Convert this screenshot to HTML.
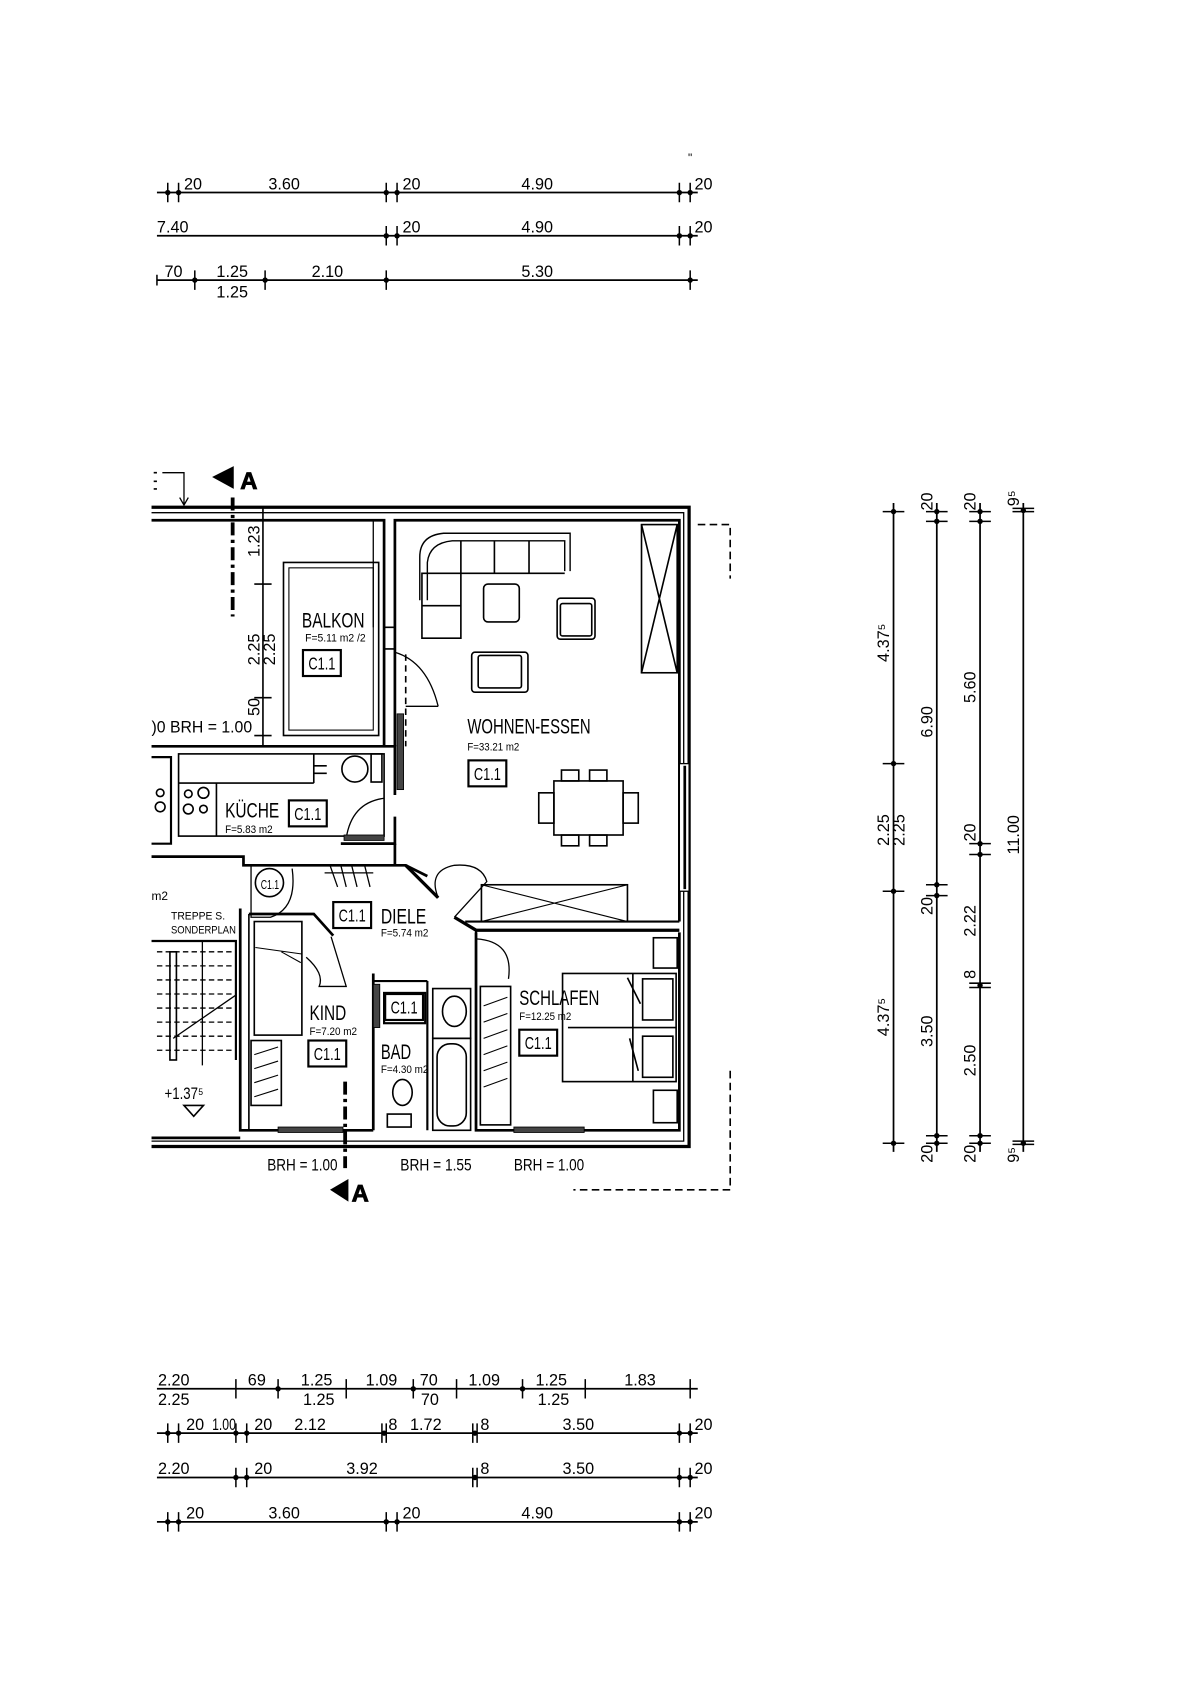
<!DOCTYPE html>
<html><head><meta charset="utf-8"><style>
html,body{margin:0;padding:0;background:#fff}
svg{display:block}
text{font-family:"Liberation Sans Narrow","Liberation Sans",sans-serif;fill:#000}
</style></head><body>
<svg width="1190" height="1683" viewBox="0 0 1100 1556" xmlns="http://www.w3.org/2000/svg">
<rect width="1100" height="1556" fill="#fff"/>
<g stroke="#000" stroke-width="1.6" fill="none">
<line x1="145" y1="178" x2="645" y2="178"/>
<line x1="145" y1="218" x2="645" y2="218"/>
<line x1="145" y1="259" x2="645" y2="259"/>
<g stroke-width="1.4">
<path d="M155 169v18M165 169v18M357 169v18M367 169v18M628 169v18M638 169v18"/>
<path d="M357 209v18M367 209v18M628 209v18M638 209v18"/>
<path d="M145 254v10M180 250v18M245 250v18M357 250v18M638 250v18"/>
<path d="M218 1275v18M257 1275v18M320 1275v18M382 1275v18M422 1275v18M483 1275v18M541 1275v18M638 1275v18"/>
<path d="M155 1316v18M165 1316v18M218 1316v18M228 1316v18M353 1316v18M357 1316v18M437 1316v18M441 1316v18M628 1316v18M638 1316v18"/>
<path d="M218 1357v18M228 1357v18M437 1357v18M441 1357v18M628 1357v18M638 1357v18"/>
<path d="M155 1398v18M165 1398v18M357 1398v18M367 1398v18M628 1398v18M638 1398v18"/>
<path d="M816 473h20M816 706h20M816 824h20M816 1057h20"/>
<path d="M856 473h20M856 482h20M856 818h20M856 828h20M856 1050h20M856 1057h20"/>
<path d="M896 473h20M896 482h20M896 780h20M896 790h20M896 909h20M896 913h20M896 1050h20M896 1057h20"/>
<path d="M936 470h20M936 473h20M936 1055h20M936 1058h20"/>
</g>
<line x1="145" y1="1284" x2="645" y2="1284"/>
<line x1="145" y1="1325" x2="645" y2="1325"/>
<line x1="145" y1="1366" x2="645" y2="1366"/>
<line x1="145" y1="1407" x2="645" y2="1407"/>
<line x1="826" y1="465" x2="826" y2="1065"/>
<line x1="866" y1="465" x2="866" y2="1065"/>
<line x1="906" y1="465" x2="906" y2="1065"/>
<line x1="946" y1="465" x2="946" y2="1065"/>
</g>
<g fill="#000">
<circle cx="155" cy="178" r="2.5"/><circle cx="165" cy="178" r="2.5"/><circle cx="357" cy="178" r="2.5"/><circle cx="367" cy="178" r="2.5"/><circle cx="628" cy="178" r="2.5"/><circle cx="638" cy="178" r="2.5"/>
<circle cx="357" cy="218" r="2.5"/><circle cx="367" cy="218" r="2.5"/><circle cx="628" cy="218" r="2.5"/><circle cx="638" cy="218" r="2.5"/>
<circle cx="180" cy="259" r="2.5"/><circle cx="245" cy="259" r="2.5"/><circle cx="357" cy="259" r="2.5"/><circle cx="638" cy="259" r="2.5"/>
<circle cx="826" cy="473" r="2.5"/><circle cx="826" cy="706" r="2.5"/><circle cx="826" cy="824" r="2.5"/><circle cx="826" cy="1057" r="2.5"/>
<circle cx="866" cy="473" r="2.5"/><circle cx="866" cy="482" r="2.5"/><circle cx="866" cy="818" r="2.5"/><circle cx="866" cy="828" r="2.5"/><circle cx="866" cy="1050" r="2.5"/><circle cx="866" cy="1057" r="2.5"/>
<circle cx="906" cy="473" r="2.5"/><circle cx="906" cy="482" r="2.5"/><circle cx="906" cy="780" r="2.5"/><circle cx="906" cy="790" r="2.5"/><circle cx="906" cy="911" r="2.5"/><circle cx="906" cy="1050" r="2.5"/><circle cx="906" cy="1057" r="2.5"/>
<circle cx="946" cy="472" r="2.5"/><circle cx="946" cy="1057" r="2.5"/>
<circle cx="155" cy="1325" r="2.5"/><circle cx="165" cy="1325" r="2.5"/><circle cx="218" cy="1325" r="2.5"/><circle cx="228" cy="1325" r="2.5"/><circle cx="355" cy="1325" r="2.5"/><circle cx="439" cy="1325" r="2.5"/><circle cx="628" cy="1325" r="2.5"/><circle cx="638" cy="1325" r="2.5"/>
<circle cx="218" cy="1366" r="2.5"/><circle cx="228" cy="1366" r="2.5"/><circle cx="439" cy="1366" r="2.5"/><circle cx="628" cy="1366" r="2.5"/><circle cx="638" cy="1366" r="2.5"/>
<circle cx="155" cy="1407" r="2.5"/><circle cx="165" cy="1407" r="2.5"/><circle cx="357" cy="1407" r="2.5"/><circle cx="367" cy="1407" r="2.5"/><circle cx="628" cy="1407" r="2.5"/><circle cx="638" cy="1407" r="2.5"/>
<circle cx="257" cy="1284" r="2.5"/><circle cx="382" cy="1284" r="2.5"/><circle cx="483" cy="1284" r="2.5"/>
</g>
<g font-size="15">
<text x="170" y="175">20</text><text x="248" y="175">3.60</text><text x="372" y="175">20</text><text x="482" y="175">4.90</text><text x="642" y="175">20</text>
<text x="145" y="215">7.40</text><text x="372" y="215">20</text><text x="482" y="215">4.90</text><text x="642" y="215">20</text>
<text x="152" y="256">70</text><text x="200" y="256">1.25</text><text x="200" y="275">1.25</text><text x="288" y="256">2.10</text><text x="482" y="256">5.30</text>
<text x="636" y="150" font-size="11">"</text>
<text x="146" y="1281">2.20</text><text x="146" y="1299">2.25</text><text x="229" y="1281">69</text><text x="278" y="1281">1.25</text><text x="280" y="1299">1.25</text><text x="338" y="1281">1.09</text><text x="388" y="1281">70</text><text x="389" y="1299">70</text><text x="433" y="1281">1.09</text><text x="495" y="1281">1.25</text><text x="497" y="1299">1.25</text><text x="577" y="1281">1.83</text>
<text x="172" y="1322">20</text><text x="196" y="1322" textLength="22" lengthAdjust="spacingAndGlyphs">1.00</text><text x="235" y="1322">20</text><text x="272" y="1322">2.12</text><text x="359" y="1322">8</text><text x="379" y="1322">1.72</text><text x="444" y="1322">8</text><text x="520" y="1322">3.50</text><text x="642" y="1322">20</text>
<text x="146" y="1363">2.20</text><text x="235" y="1363">20</text><text x="320" y="1363">3.92</text><text x="444" y="1363">8</text><text x="520" y="1363">3.50</text><text x="642" y="1363">20</text>
<text x="172" y="1404">20</text><text x="248" y="1404">3.60</text><text x="372" y="1404">20</text><text x="482" y="1404">4.90</text><text x="642" y="1404">20</text>
</g>
<g font-size="15">
<text transform="translate(822,612) rotate(-90)">4.37⁵</text>
<text transform="translate(822,782) rotate(-90)">2.25</text>
<text transform="translate(836,782) rotate(-90)">2.25</text>
<text transform="translate(822,958) rotate(-90)">4.37⁵</text>
<text transform="translate(862,472) rotate(-90)">20</text>
<text transform="translate(862,682) rotate(-90)">6.90</text>
<text transform="translate(862,846) rotate(-90)">20</text>
<text transform="translate(862,968) rotate(-90)">3.50</text>
<text transform="translate(862,1075) rotate(-90)">20</text>
<text transform="translate(902,472) rotate(-90)">20</text>
<text transform="translate(902,650) rotate(-90)">5.60</text>
<text transform="translate(902,778) rotate(-90)">20</text>
<text transform="translate(902,866) rotate(-90)">2.22</text>
<text transform="translate(902,905) rotate(-90)">8</text>
<text transform="translate(902,995) rotate(-90)">2.50</text>
<text transform="translate(902,1075) rotate(-90)">20</text>
<text transform="translate(942,468) rotate(-90)">9⁵</text>
<text transform="translate(942,790) rotate(-90)">11.00</text>
<text transform="translate(942,1075) rotate(-90)">9⁵</text>
</g>

<g stroke="#000" fill="none" stroke-width="1.5">
<path d="M140 469H637V1060H140" stroke-width="3"/>
<path d="M140 474H632V1055H140" stroke-width="1.2"/>
<path d="M140 481H355V690" stroke-width="2.5"/>
<path d="M365 690V481H628V852" stroke-width="2.5"/>
<path d="M628 862V1045H440V862" stroke-width="2.5"/>
<rect x="628" y="706" width="9" height="118" fill="#fff" stroke-width="1.2"/>
<line x1="633" y1="708" x2="633" y2="822" stroke-width="2.5"/>
<rect x="262" y="520" width="88" height="160" stroke-width="1.5"/>
<rect x="267" y="525" width="78" height="150" stroke-width="1"/>
<line x1="345" y1="481" x2="345" y2="580" stroke-width="1.2"/>
<path d="M355 580H365M355 600H365" />
<line x1="375" y1="605" x2="375" y2="690" stroke-dasharray="6 4"/>
<path d="M365 603 Q395 612 405 653" stroke-width="1.2"/>
<line x1="375" y1="653" x2="405" y2="653" stroke-width="1.2"/>
<rect x="367" y="660" width="6" height="70" fill="#444" stroke-width="0.8"/>
<line x1="243" y1="470" x2="243" y2="690"/>
<path d="M235 540h16M235 645h16M235 680h16"/>
<path d="M140 690H365V735M365 755V780H315" stroke-width="2.5"/>
<rect x="165" y="697" width="190" height="76" stroke-width="1.5"/>
<line x1="165" y1="724" x2="290" y2="724"/>
<line x1="200" y1="724" x2="200" y2="773"/>
<line x1="290" y1="697" x2="290" y2="724"/>
<path d="M290 708h12M290 715h12"/>
<circle cx="328" cy="711" r="12"/>
<rect x="343" y="697" width="10" height="26"/>
<circle cx="174" cy="734" r="3.5"/><circle cx="188" cy="733" r="5"/><circle cx="174" cy="748" r="4.5"/><circle cx="188" cy="748" r="3.5"/>
<path d="M355 738 Q325 742 320 775" stroke-width="1.2"/>
<rect x="318" y="772" width="37" height="5" fill="#444" stroke-width="0.8"/>
<path d="M140 700H158V780H140" stroke-width="2"/>
<circle cx="148" cy="733" r="3.5"/><circle cx="148" cy="746" r="4.5"/>
<path d="M140 792H225V800H375L395 810" stroke-width="2.5"/>
<path d="M365 780V800" stroke-width="2.5"/>
<path d="M375 800L405 830" stroke-width="3"/>
<path d="M420 848L440 860H628" stroke-width="3"/>
<path d="M430 852H628" stroke-width="2"/>
<path d="M405 830 Q395 805 420 800 Q445 798 450 815 L420 848" stroke-width="1.2"/>
<rect x="445" y="818" width="135" height="34"/>
<path d="M445 818L580 852M445 852L580 818" stroke-width="1"/>
<path d="M305 800L312 820M315 800L320 820M325 800L330 820M337 800L342 820M300 807H345" stroke-width="1.2"/>
<circle cx="249" cy="816" r="13"/>
<path d="M232 800V848H250 Q275 840 270 803" stroke-width="1.2"/>
<path d="M222 840V1045H345" stroke-width="2.5"/>
<path d="M230 845H290L308 865" stroke-width="2.5"/>
<path d="M230 845V1045" stroke-width="1.5"/>
<rect x="235" y="852" width="44" height="105"/>
<path d="M236 876 L279 882 M260 880 L278 890" stroke-width="1"/>
<path d="M283 885 Q300 900 295 912 L320 912 L306 866" stroke-width="1.2"/>
<rect x="232" y="962" width="28" height="60"/>
<path d="M235 975L257 968M235 988L257 981M235 1001L257 994M235 1014L257 1007" stroke-width="1"/>
<line x1="345" y1="900" x2="345" y2="1045" stroke-width="2.5"/>
<rect x="345" y="910" width="6" height="40" fill="#444" stroke-width="0.8"/>
<path d="M345 907H395M395 907V1045M440 860V1045" stroke-width="2"/>
<rect x="355" y="918" width="38" height="28" stroke-width="2"/>
<path d="M400 914H435V960H400Z"/>
<ellipse cx="420" cy="935" rx="11" ry="14"/>
<rect x="400" y="960" width="35" height="85"/>
<rect x="404" y="965" width="27" height="76" rx="12"/>
<ellipse cx="372" cy="1010" rx="9" ry="12"/>
<rect x="358" y="1030" width="22" height="12"/>
<rect x="444" y="912" width="28" height="128"/>
<path d="M447 930L469 922M447 945L469 937M447 960L469 952M447 975L469 967M447 990L469 982M447 1005L469 997" stroke-width="1"/>
<rect x="520" y="900" width="105" height="100"/>
<path d="M525 950H625M585 900V1000"/>
<rect x="594" y="905" width="28" height="38"/><rect x="594" y="958" width="28" height="38"/>
<path d="M580 904L592 928M582 960L590 990"/>
<rect x="604" y="867" width="22" height="28"/><rect x="604" y="1008" width="22" height="30"/>
<path d="M440 868 Q475 870 470 905" stroke-width="1.2"/>
<path d="M388 555V515 Q388 495 410 493H527V528" stroke-width="1.3"/>
<path d="M395 555V520 Q397 502 418 500H522V528" stroke-width="1.3"/>
<path d="M390 530H426V590H390ZM390 560H426M426 500V530M457 500V530M489 500V530M426 530H522"/>
<rect x="447" y="540" width="33" height="35" rx="4"/>
<rect x="515" y="553" width="35" height="38" rx="3"/>
<rect x="518" y="558" width="29" height="30" rx="2"/>
<rect x="436" y="603" width="52" height="37" rx="3"/>
<rect x="442" y="606" width="40" height="30" rx="2"/>
<rect x="593" y="485" width="33" height="137"/>
<path d="M593 485L626 622M626 485L593 622"/>
<rect x="512" y="722" width="64" height="50"/>
<rect x="498" y="733" width="14" height="28"/><rect x="576" y="733" width="14" height="28"/>
<path d="M519 712h16v10h-16zM545 712h16v10h-16zM519 772h16v10h-16zM545 772h16v10h-16z"/>
<path d="M140 870H218V980" stroke-width="2"/>
<path d="M145 880H216M145 893H216M145 906H216M145 919H216M145 932H216M145 945H216M145 958H216M145 971H216" stroke-dasharray="5 3" stroke-width="1.2"/>
<rect x="157" y="880" width="6" height="100"/>
<path d="M160 960L218 920M187 870V985" stroke-width="1.2"/>
<path d="M170 1022H188L179 1032Z"/>
<rect x="257" y="1042" width="60" height="5" fill="#444" stroke-width="0.8"/>
<rect x="475" y="1042" width="65" height="5" fill="#444" stroke-width="0.8"/>
<line x1="140" y1="1052" x2="222" y2="1052" stroke-width="2.5"/>
<path d="M645 485H675V535M675 990V1100H530" stroke-dasharray="7 4" stroke-width="1.5"/>
<path d="M150 437H170V467M166 460L170 467L174 460" stroke-width="1.2"/>
<path d="M142 437h3M142 445h3M142 452h3" />
<path d="M215 460V570" stroke-dasharray="12 4 3 4" stroke-width="3.5"/>
<path d="M319 1000V1080" stroke-dasharray="12 4 3 4" stroke-width="3.5"/>
</g>
<path d="M196 441L216 431V452Z" fill="#000"/>
<path d="M305 1100L322 1090V1111Z" fill="#000"/>
<g font-size="22" font-weight="bold" stroke="#000" stroke-width="0.8" fill="#fff">
<text x="222" y="452" fill="#fff">A</text>
<text x="325" y="1111" fill="#fff">A</text>
</g>
<g font-size="10" lengthAdjust="spacingAndGlyphs">
<text x="282" y="593" textLength="56" lengthAdjust="spacingAndGlyphs">F=5.11 m2 /2</text>
<text x="432" y="694" textLength="48" lengthAdjust="spacingAndGlyphs">F=33.21 m2</text>
<text x="208" y="770" textLength="44" lengthAdjust="spacingAndGlyphs">F=5.83 m2</text>
<text x="352" y="866" textLength="44" lengthAdjust="spacingAndGlyphs">F=5.74 m2</text>
<text x="286" y="957" textLength="44" lengthAdjust="spacingAndGlyphs">F=7.20 m2</text>
<text x="352" y="992" textLength="44" lengthAdjust="spacingAndGlyphs">F=4.30 m2</text>
<text x="480" y="943" textLength="48" lengthAdjust="spacingAndGlyphs">F=12.25 m2</text>
<text x="158" y="850" textLength="50" lengthAdjust="spacingAndGlyphs">TREPPE S.</text>
<text x="158" y="863" textLength="60" lengthAdjust="spacingAndGlyphs">SONDERPLAN</text>
<text x="140" y="832" font-size="11">m2</text>
</g>
<g font-size="20">
<text x="279" y="580" textLength="58" lengthAdjust="spacingAndGlyphs">BALKON</text>
<text x="432" y="678" textLength="114" lengthAdjust="spacingAndGlyphs">WOHNEN-ESSEN</text>
<text x="208" y="756" textLength="50" lengthAdjust="spacingAndGlyphs">KÜCHE</text>
<text x="352" y="854" textLength="42" lengthAdjust="spacingAndGlyphs">DIELE</text>
<text x="286" y="943" textLength="34" lengthAdjust="spacingAndGlyphs">KIND</text>
<text x="352" y="979" textLength="28" lengthAdjust="spacingAndGlyphs">BAD</text>
<text x="480" y="929" textLength="74" lengthAdjust="spacingAndGlyphs">SCHLAFEN</text>
</g>
<g font-size="15">
<text x="140" y="677" textLength="93" lengthAdjust="spacingAndGlyphs">)0  BRH = 1.00</text>
<text x="247" y="1082" textLength="65" lengthAdjust="spacingAndGlyphs">BRH = 1.00</text>
<text x="370" y="1082" textLength="66" lengthAdjust="spacingAndGlyphs">BRH = 1.55</text>
<text x="475" y="1082" textLength="65" lengthAdjust="spacingAndGlyphs">BRH = 1.00</text>
<text x="152" y="1016" textLength="36" lengthAdjust="spacingAndGlyphs">+1.37⁵</text>
<text transform="translate(240,515) rotate(-90)">1.23</text>
<text transform="translate(240,615) rotate(-90)">2.25</text>
<text transform="translate(254,615) rotate(-90)">2.25</text>
<text transform="translate(240,662) rotate(-90)">50</text>
</g>
<g stroke="#000" stroke-width="2" fill="none">
<rect x="280" y="601" width="35" height="24"/>
<rect x="433" y="703" width="35" height="24"/>
<rect x="267" y="740" width="35" height="24"/>
<rect x="308" y="834" width="35" height="24"/>
<rect x="285" y="962" width="35" height="24"/>
<rect x="356" y="919" width="35" height="24"/>
<rect x="480" y="952" width="35" height="24"/>
</g>
<g font-size="16">
<text x="285" y="619" textLength="25" lengthAdjust="spacingAndGlyphs">C1.1</text>
<text x="438" y="721" textLength="25" lengthAdjust="spacingAndGlyphs">C1.1</text>
<text x="272" y="758" textLength="25" lengthAdjust="spacingAndGlyphs">C1.1</text>
<text x="313" y="852" textLength="25" lengthAdjust="spacingAndGlyphs">C1.1</text>
<text x="290" y="980" textLength="25" lengthAdjust="spacingAndGlyphs">C1.1</text>
<text x="361" y="937" textLength="25" lengthAdjust="spacingAndGlyphs">C1.1</text>
<text x="485" y="970" textLength="25" lengthAdjust="spacingAndGlyphs">C1.1</text>
<text x="241" y="822" font-size="12" textLength="17" lengthAdjust="spacingAndGlyphs">C1.1</text>
</g>
</svg>
</body></html>
